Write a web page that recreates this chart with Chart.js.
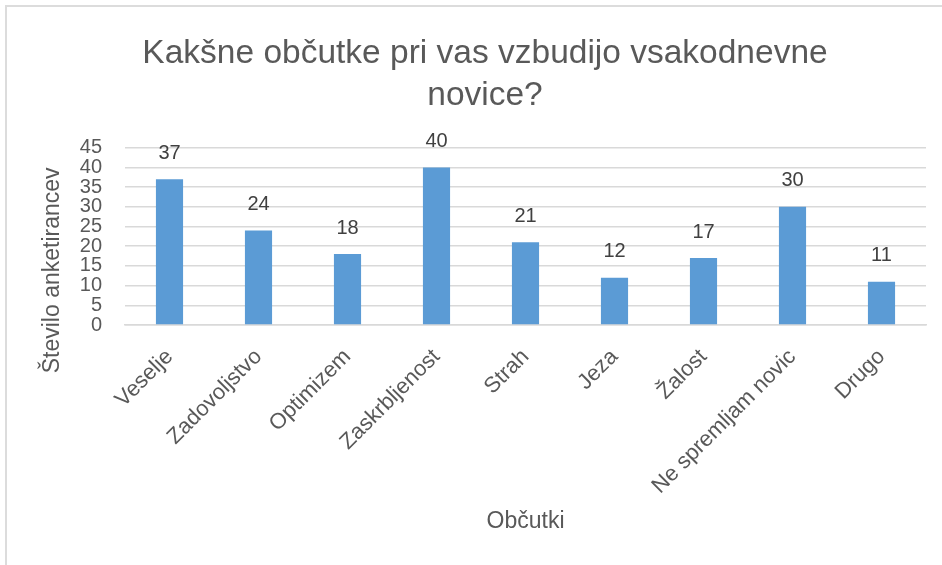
<!DOCTYPE html>
<html>
<head>
<meta charset="utf-8">
<script src="https://cdn.jsdelivr.net/npm/chart.js@4.4.0/dist/chart.umd.min.js"></script>
<style>
  html, body { margin: 0; padding: 0; background: #fff; }
  #wrap { position: relative; width: 942px; height: 565px; overflow: hidden; }
  #frame { position: absolute; left: 5px; top: 5px; width: 1200px; height: 1200px;
           border-left: 2px solid #dcdcdc; border-top: 2px solid #dcdcdc; }
  #myChart { position: absolute; left: 0; top: 0; }
</style>
</head>
<body>
<div id="wrap">
  <div id="frame"></div>
  <canvas id="myChart" width="942" height="565"></canvas>
</div>
<script>
// data
var categories = ['Veselje', 'Zadovoljstvo', 'Optimizem', 'Zaskrbljenost', 'Strah', 'Jeza', 'Žalost', 'Ne spremljam novic', 'Drugo'];
var answers = [37, 24, 18, 40, 21, 12, 17, 30, 11];
var titleLines = ['Kakšne občutke pri vas vzbudijo vsakodnevne', 'novice?'];
var xTitle = 'Občutki';
var yTitle = 'Število anketirancev';
var yMax = 45;
var yStep = 5;

var FONT = "'Liberation Sans', Arial, sans-serif";
var textGray = '#595959';

// numbers above the bars
var valueLabels = {
  id: 'valueLabels',
  afterDatasetsDraw: function(chart) {
    var ctx = chart.ctx;
    var meta = chart.getDatasetMeta(0);
    ctx.save();
    ctx.font = '20px ' + FONT;
    ctx.fillStyle = '#404040';
    ctx.textAlign = 'center';
    ctx.textBaseline = 'middle';
    meta.data.forEach(function(bar, i) {
      ctx.fillText(answers[i], bar.x, bar.y - 26);
    });
    ctx.restore();
  }
};

// vertical axis title (Excel puts it a bit lower than the plot middle)
var yAxisTitle = {
  id: 'yAxisTitle',
  afterDraw: function(chart) {
    var ctx = chart.ctx;
    var a = chart.chartArea;
    ctx.save();
    ctx.translate(53, (a.top + a.bottom) / 2 + 34);
    ctx.rotate(-Math.PI / 2);
    ctx.font = '23px ' + FONT;
    ctx.fillStyle = textGray;
    ctx.textAlign = 'center';
    ctx.textBaseline = 'middle';
    ctx.fillText(yTitle, 0, 0);
    ctx.restore();
  }
};

var ctx = document.getElementById('myChart').getContext('2d');
var chart = new Chart(ctx, {
  type: 'bar',
  data: {
    labels: categories,
    datasets: [{
      label: yTitle,
      data: answers,
      backgroundColor: '#5B9BD5',
      borderWidth: 0,
      categoryPercentage: 1,
      barPercentage: 0.305
    }]
  },
  options: {
    responsive: false,
    animation: false,
    layout: { padding: { left: 44, right: 16, top: 0, bottom: 0 } },
    plugins: {
      legend: { display: false },
      tooltip: { enabled: false },
      title: {
        display: true,
        text: titleLines,
        color: textGray,
        font: { family: FONT, size: 33.5, weight: 'normal', lineHeight: 1.25 },
        padding: { top: 33, bottom: 31 }
      }
    },
    scales: {
      x: {
        grid: { display: false, drawTicks: false },
        border: { display: true, color: '#d9d9d9', width: 1.5 },
        ticks: {
          color: textGray,
          font: { family: FONT, size: 22 },
          minRotation: 45,
          maxRotation: 45,
          autoSkip: false,
          padding: 19
        },
        title: {
          display: true,
          text: xTitle,
          color: textGray,
          font: { family: FONT, size: 23 },
          padding: { top: 0, bottom: 30 }
        },
        afterFit: function(scale) { scale.height = 240; }
      },
      y: {
        min: 0,
        max: yMax,
        grid: { color: '#d9d9d9', lineWidth: 1.5, drawTicks: false },
        border: { display: false },
        ticks: {
          stepSize: yStep,
          autoSkip: false,
          color: textGray,
          font: { family: FONT, size: 20 },
          padding: 23
        },
        afterFit: function(scale) { scale.width = 81; }
      }
    }
  },
  plugins: [valueLabels, yAxisTitle]
});
</script>
</body>
</html>
